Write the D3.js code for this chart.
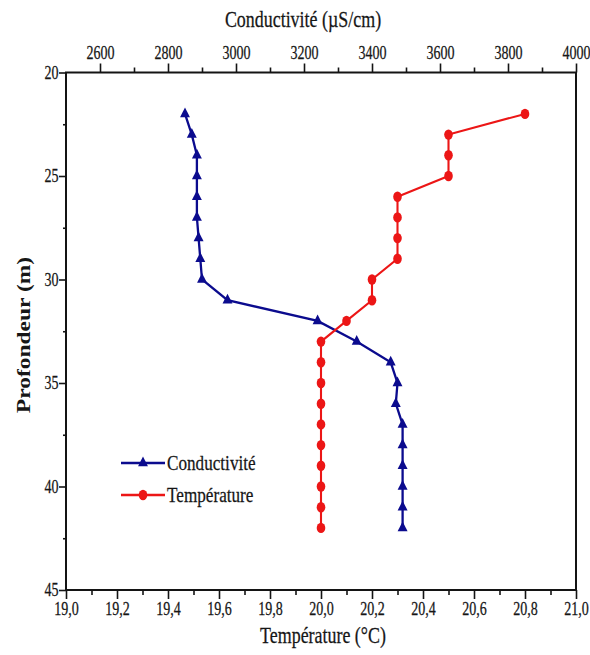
<!DOCTYPE html>
<html>
<head>
<meta charset="utf-8">
<script src="https://cdn.jsdelivr.net/npm/d3@7"></script>
<style>
  body { margin: 0; background: #fff; }
</style>
</head>
<body>
<svg id="chart" width="590" height="655"></svg>
<script>
// Depth profile: conductivity (top axis) and temperature (bottom axis) against depth
const depths = [22, 23, 24, 25, 26, 27, 28, 29, 30, 31, 32, 33, 34, 35, 36, 37, 38, 39, 40, 41, 42];
const conductivity = [2850, 2870, 2885, 2885, 2885, 2885, 2890, 2895, 2900, 2975, 3240, 3355, 3455, 3475, 3470, 3490, 3490, 3490, 3490, 3490, 3490];
const temperature = [20.8, 20.5, 20.5, 20.5, 20.3, 20.3, 20.3, 20.3, 20.2, 20.2, 20.1, 20.0, 20.0, 20.0, 20.0, 20.0, 20.0, 20.0, 20.0, 20.0, 20.0];

const condTicks = [2600, 2800, 3000, 3200, 3400, 3600, 3800, 4000];
const condMinor = [2700, 2900, 3100, 3300, 3500, 3700, 3900];
const tempTicks = [19.0, 19.2, 19.4, 19.6, 19.8, 20.0, 20.2, 20.4, 20.6, 20.8, 21.0];
const tempMinor = [19.1, 19.3, 19.5, 19.7, 19.9, 20.1, 20.3, 20.5, 20.7, 20.9];
const depthTicks = [20, 25, 30, 35, 40, 45];
const depthMinor = [22.5, 27.5, 32.5, 37.5, 42.5];

const seriesNames = ["Conductivité", "Température"];
const condTitle = "Conductivité (µS/cm)";
const tempTitle = "Température (°C)";
const depthTitle = "Profondeur (m)";

const BLUE = "#0b0b8e";
const RED = "#ec1616";
const INK = "#141414";
const TEXT = "#161616";
const FONT = "'Liberation Serif', 'Times New Roman', serif";
const SX = 0.78; // narrow type

const frame = { left: 66, right: 576, top: 72.5, bottom: 590 };

const xTemp = d3.scaleLinear().domain([19, 21]).range([frame.left, frame.right]);
const xCond = d3.scaleLinear().domain([2500, 4000]).range([frame.left, frame.right]);
const y = d3.scaleLinear().domain([20, 45]).range([frame.top, frame.bottom]);

const svg = d3.select("#chart");
svg.append("rect").attr("width", 590).attr("height", 655).attr("fill", "#fff");

const commaFmt = d => d3.format(".1f")(d).replace(".", ",");

function styleAxis(g, size) {
  g.select(".domain").remove();
  g.selectAll("line").attr("stroke", INK).attr("stroke-width", 1.6);
  g.selectAll("text")
    .attr("font-family", FONT)
    .attr("font-size", size)
    .attr("fill", TEXT)
    .attr("stroke", TEXT)
    .attr("stroke-width", 0.25);
}

// Bottom axis: temperature
const gBottom = svg.append("g")
  .attr("transform", `translate(0,${frame.bottom})`)
  .call(d3.axisBottom(xTemp).tickValues(tempTicks).tickSize(9).tickPadding(3).tickFormat(commaFmt));
styleAxis(gBottom, 18);
gBottom.selectAll("text").attr("transform", `scale(${SX},1)`);

svg.append("g")
  .attr("transform", `translate(0,${frame.bottom})`)
  .call(d3.axisBottom(xTemp).tickValues(tempMinor).tickSize(5).tickFormat(""))
  .call(g => styleAxis(g, 18));

// Top axis: conductivity
const gTop = svg.append("g")
  .attr("transform", `translate(0,${frame.top})`)
  .call(d3.axisTop(xCond).tickValues(condTicks).tickSize(9).tickPadding(5).tickFormat(d3.format("d")));
styleAxis(gTop, 18);
gTop.selectAll("text").attr("transform", `scale(${SX},1)`);

svg.append("g")
  .attr("transform", `translate(0,${frame.top})`)
  .call(d3.axisTop(xCond).tickValues(condMinor).tickSize(5).tickFormat(""))
  .call(g => styleAxis(g, 18));

// Left axis: depth
const gLeft = svg.append("g")
  .attr("transform", `translate(${frame.left},0)`)
  .call(d3.axisLeft(y).tickValues(depthTicks).tickSize(7).tickFormat(d3.format("d")));
styleAxis(gLeft, 18);
gLeft.selectAll("text").attr("x", -7.5 / SX).attr("transform", `scale(${SX},1)`);

svg.append("g")
  .attr("transform", `translate(${frame.left},0)`)
  .call(d3.axisLeft(y).tickValues(depthMinor).tickSize(3).tickFormat(""))
  .call(g => styleAxis(g, 18));

// Plot frame
svg.append("rect")
  .attr("x", frame.left).attr("y", frame.top)
  .attr("width", frame.right - frame.left).attr("height", frame.bottom - frame.top)
  .attr("fill", "none").attr("stroke", INK).attr("stroke-width", 2);

// Axis titles
function narrowText(x, yPos, str, size, weight) {
  svg.append("g")
    .attr("transform", `translate(${x},${yPos}) scale(${SX},1)`)
    .append("text")
    .attr("text-anchor", "middle")
    .attr("font-family", FONT)
    .attr("font-size", size)
    .attr("font-weight", weight || "normal")
    .attr("fill", TEXT)
    .attr("stroke", TEXT)
    .attr("stroke-width", 0.25)
    .text(str);
}
narrowText(303, 27, condTitle, 23);
narrowText(323, 643, tempTitle, 23);

svg.append("g")
  .attr("transform", `translate(30,335) scale(${SX},1) rotate(-90)`)
  .append("text")
  .attr("text-anchor", "middle")
  .attr("font-family", FONT)
  .attr("font-size", 23.5)
  .attr("font-weight", "bold")
  .attr("fill", TEXT)
  .text(depthTitle);

// Series
const condData = depths.map((d, i) => ({ depth: d, value: conductivity[i] }));
const tempData = depths.map((d, i) => ({ depth: d, value: temperature[i] }));

const triangle = d3.symbol().type(d3.symbolTriangle).size(55);

svg.append("path")
  .datum(condData)
  .attr("fill", "none").attr("stroke", BLUE).attr("stroke-width", 2.3)
  .attr("d", d3.line().x(d => xCond(d.value)).y(d => y(d.depth)));

svg.append("path")
  .datum(tempData)
  .attr("fill", "none").attr("stroke", RED).attr("stroke-width", 2.1)
  .attr("d", d3.line().x(d => xTemp(d.value)).y(d => y(d.depth)));

svg.append("g").selectAll("path")
  .data(condData)
  .join("path")
  .attr("d", triangle)
  .attr("fill", BLUE)
  .attr("transform", d => `translate(${xCond(d.value)},${y(d.depth)}) scale(0.88,1)`);

svg.append("g").selectAll("ellipse")
  .data(tempData)
  .join("ellipse")
  .attr("cx", d => xTemp(d.value))
  .attr("cy", d => y(d.depth))
  .attr("rx", 4.3).attr("ry", 5.2)
  .attr("fill", RED);

// Legend
const legendRows = [
  { name: seriesNames[0], color: BLUE, y: 463, marker: "triangle" },
  { name: seriesNames[1], color: RED, y: 495, marker: "circle" }
];
const legend = svg.append("g");
legendRows.forEach(r => {
  legend.append("line")
    .attr("x1", 121).attr("x2", 165).attr("y1", r.y).attr("y2", r.y)
    .attr("stroke", r.color).attr("stroke-width", 2.4);
  if (r.marker === "triangle") {
    legend.append("path").attr("d", triangle).attr("fill", r.color)
      .attr("transform", `translate(143,${r.y}) scale(0.88,1)`);
  } else {
    legend.append("ellipse").attr("cx", 143).attr("cy", r.y)
      .attr("rx", 4.3).attr("ry", 5.2).attr("fill", r.color);
  }
  legend.append("g")
    .attr("transform", `translate(167,${r.y + 7}) scale(${SX},1)`)
    .append("text")
    .attr("font-family", FONT)
    .attr("font-size", 22)
    .attr("fill", TEXT)
    .attr("stroke", TEXT)
    .attr("stroke-width", 0.25)
    .text(r.name);
});
</script>
</body>
</html>
